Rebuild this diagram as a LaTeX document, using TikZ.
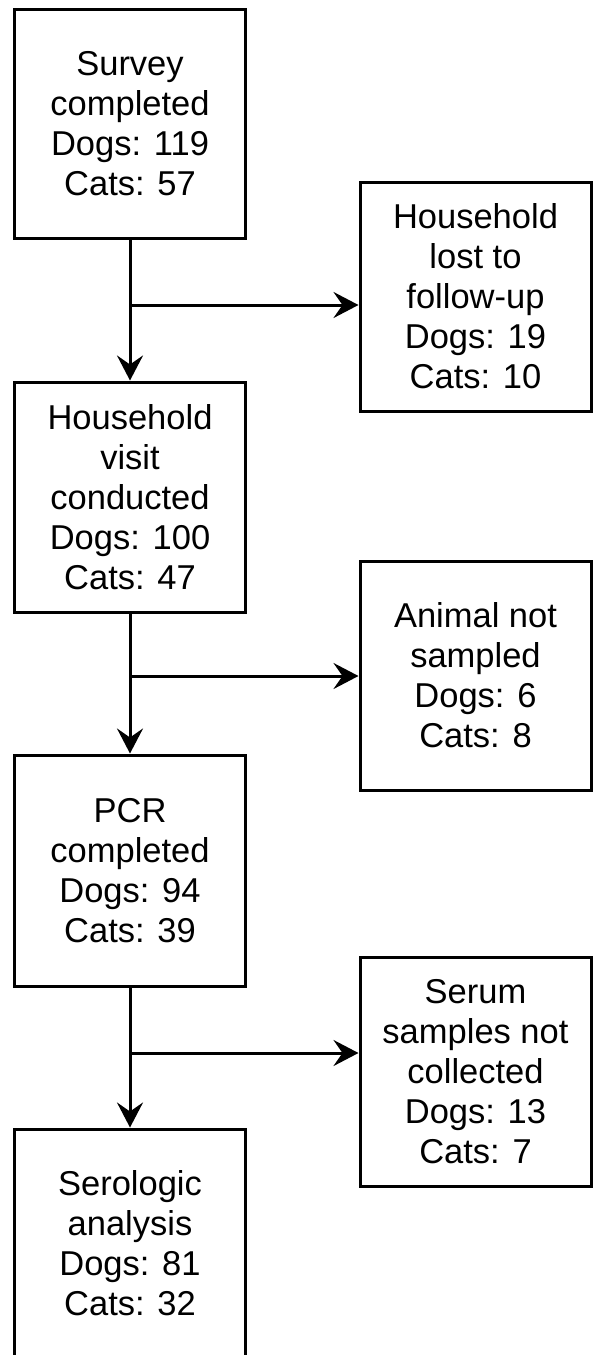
\documentclass[tikz,border=0pt]{standalone}
\usepackage{fontspec}
\setmainfont{Liberation Sans}
\usetikzlibrary{arrows.meta}
\begin{document}
\begin{tikzpicture}[x=1pt,y=-1pt,
  box/.style={draw=black, line width=3pt, fill=white, align=center,
    minimum width=231pt, minimum height=229pt, inner sep=0pt,
    font=\fontsize{34.5}{40}\selectfont},
  arr/.style={line width=3pt, -{Stealth[length=25pt,width=26pt,inset=9pt]}},
  link/.style={line width=3pt}]
\useasboundingbox (0,0) rectangle (594,1355);
\node[box] (A) at (130,123.5) {Survey\\completed\\Dogs: 119\\Cats: 57};
\node[box] (R1) at (475.5,296.5) {Household\\lost to\\follow-up\\Dogs: 19\\Cats: 10};
\node[box, minimum height=230pt] (B) at (130,497) {Household\\visit\\conducted\\Dogs: 100\\Cats: 47};
\node[box] (R2) at (475.5,675.5) {Animal not\\sampled\\Dogs: 6\\Cats: 8};
\node[box, minimum height=231pt] (C) at (130,870.5) {PCR\\completed\\Dogs: 94\\Cats: 39};
\node[box] (R3) at (475.5,1071.5) {Serum\\samples not\\collected\\Dogs: 13\\Cats: 7};
\node[box] (D) at (130,1243.5) {Serologic\\analysis\\Dogs: 81\\Cats: 32};
\coordinate (j1) at (130,305);
\coordinate (j2) at (130,676);
\coordinate (j3) at (130,1053);
\draw[arr] (A.south) -- (B.north);
\draw[arr] (B.south) -- (C.north);
\draw[arr] (C.south) -- (D.north);
\draw[arr] (j1) -- (j1 -| R1.west);
\draw[arr] (j2) -- (j2 -| R2.west);
\draw[arr] (j3) -- (j3 -| R3.west);
\end{tikzpicture}
\end{document}
